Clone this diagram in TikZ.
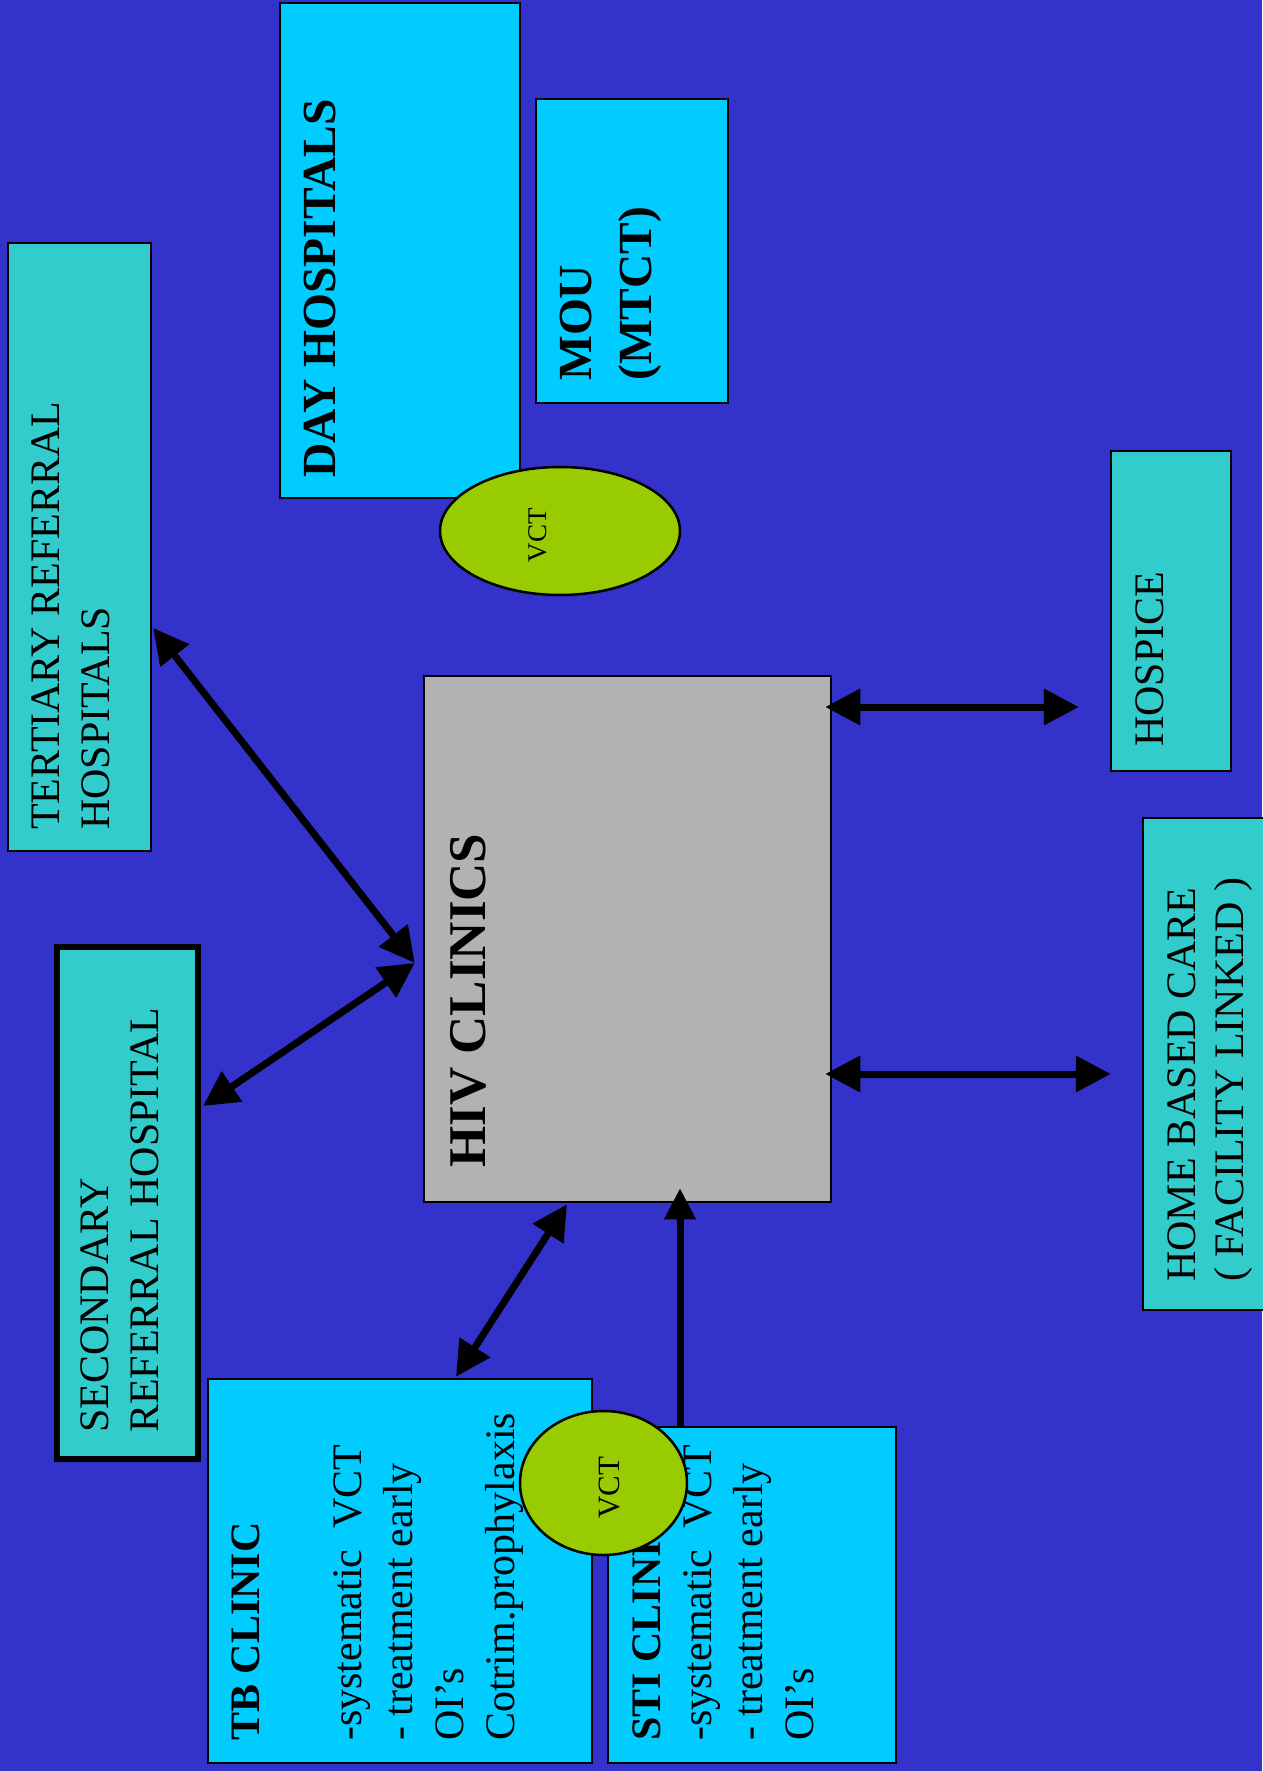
\documentclass[tikz,border=0pt]{standalone}
\usepackage{fontspec}
\setmainfont{Liberation Serif}
\usetikzlibrary{arrows.meta,calc,shapes.geometric}
\definecolor{bgblue}{RGB}{51,51,204}
\definecolor{skyfill}{RGB}{0,204,255}
\definecolor{tealfill}{RGB}{51,204,204}
\definecolor{hubgray}{RGB}{178,178,178}
\definecolor{vctgreen}{RGB}{153,204,0}
\tikzset{
  unitbox/.style={draw=black, line width=2.5pt, inner sep=0pt},
  skybox/.style={unitbox, fill=skyfill},
  tealbox/.style={unitbox, fill=tealfill},
  vctoval/.style={ellipse, draw=black, line width=2.5pt, fill=vctgreen, inner sep=0pt},
  sidetext/.style={rotate=90, anchor=north west, inner sep=0pt, align=left, font=\fontsize{42}{50}\selectfont},
  cliniclist/.style={sidetext, font=\fontsize{42}{51}\selectfont},
  headtext/.style={sidetext, font=\bfseries\fontsize{47.5}{60}\selectfont},
  vcttext/.style={rotate=90, inner sep=0pt},
  link/.style={line width=7pt, {Triangle[length=35pt,width=35pt]}-{Triangle[length=35pt,width=35pt]}},
  feed/.style={line width=7pt, -{Triangle[length=31pt,width=30pt]}},
}
\begin{document}
\begin{tikzpicture}[x=1pt,y=-1pt]
  \useasboundingbox (0,0) rectangle (1262,1771);
  \fill[bgblue] (0,0) rectangle (1262,1771);

  \node[skybox, minimum width=240pt, minimum height=495pt] (dayhosp) at (400,250.5) {};
  \node[skybox, minimum width=192pt, minimum height=304pt] (mou) at (632,251) {};
  \node[tealbox, minimum width=143pt, minimum height=608pt] (tertiary) at (79.5,547) {};
  \node[tealbox, line width=6pt, minimum width=141pt, minimum height=512pt] (secondary) at (127.5,1203) {};
  \node[unitbox, fill=hubgray, minimum width=407pt, minimum height=526pt] (hiv) at (627.5,939) {};
  \node[tealbox, minimum width=120pt, minimum height=320pt] (hospice) at (1171,611) {};
  \node[tealbox, minimum width=132pt, minimum height=492pt] (homecare) at (1209,1064) {};
  \node[skybox, minimum width=384pt, minimum height=384pt] (tbclinic) at (400,1571) {};
  \node[skybox, minimum width=288pt, minimum height=336pt] (sticlinic) at (752,1595) {};

  \node[headtext] (dayhosplabel) at (304,478) {DAY HOSPITALS};
  \node[headtext] (moulabel) at (560,381) {MOU\\(MTCT)};
  \node[sidetext] (tertiarylabel) at (32,830) {TERTIARY REFERRAL\\HOSPITALS};
  \node[sidetext] (secondarylabel) at (80,1433) {SECONDARY\\REFERRAL HOSPITAL};
  \node[headtext, font=\bfseries\fontsize{53}{64}\selectfont] (hivlabel) at (450,1168) {HIV CLINICS};
  \node[sidetext] (hospicelabel) at (1135,747) {HOSPICE};
  \node[sidetext, font=\fontsize{42}{48}\selectfont] (homecarelabel) at (1167,1282) {HOME BASED CARE\\( FACILITY LINKED )};
  \node[cliniclist] (tblabel) at (231,1741) {\textbf{TB CLINIC}\\[51pt]-systematic\ \ VCT\\- treatment early\\OI’s\\Cotrim.prophylaxis};
  \node[cliniclist] (stilabel) at (632,1741) {\textbf{STI CLINIC}\\-systematic\ \ VCT\\- treatment early\\OI’s};

  \draw[link] ($(tertiary.east)+(1,81)$) to ($(hiv.west)+(-8,24)$); \draw[link] ($(secondary.east)+(2,-97)$) to ($(hiv.west)+(-8,24)$);
  \draw[link] ($(hiv.east)+(-7,-232)$) to ($(hospice.west)+(-31,96)$); \draw[link] ($(hiv.east)+(-7,135)$) to ($(homecare.west)+(-31,10)$);
  \draw[link] ($(tbclinic.north)+(56,-1)$) to ($(hiv.south)+(-60.5,1)$); \draw[feed] ($(sticlinic.north)+(-72,0)$) to ($(hiv.south)+(52.5,-15)$);

  \node[vctoval, minimum width=240pt, minimum height=128pt] (vcttop) at (560,531) {};
  \node[vctoval, minimum width=167pt, minimum height=144pt] (vctbottom) at (603.5,1483) {};
  \node[vcttext, font=\fontsize{27}{32}\selectfont] (vcttoplabel) at (537.5,535) {VCT};
  \node[vcttext, font=\fontsize{31}{37}\selectfont] (vctbottomlabel) at (609.5,1487.5) {VCT};
\end{tikzpicture}
\end{document}
